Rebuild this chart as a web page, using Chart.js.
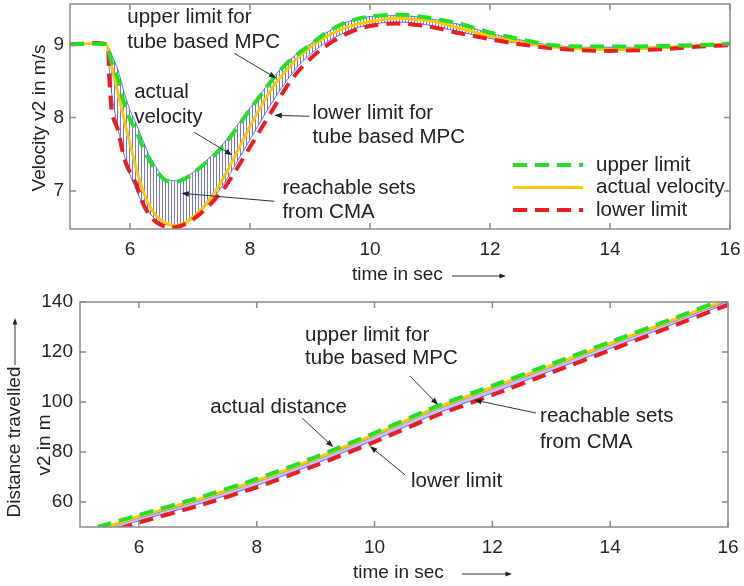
<!DOCTYPE html>
<html>
<head>
<meta charset="utf-8">
<script src="https://cdn.jsdelivr.net/npm/chart.js@4.4.1/dist/chart.umd.min.js"></script>
<style>
  html, body { margin: 0; padding: 0; background: #fff; }
  #wrap { position: relative; width: 744px; height: 586px; }
  canvas { position: absolute; left: 0; }
  #velo { top: 0; }
  #dist { top: 290px; }
</style>
</head>
<body>
<div id="wrap">
  <canvas id="velo" width="744" height="290"></canvas>
  <canvas id="dist" width="744" height="296"></canvas>
</div>
<script>
// ---- velocity plot (top) ----
const velTime = [5.0, 5.6, 5.65, 5.7, 5.8, 5.9, 6.0, 6.1, 6.2, 6.3, 6.4, 6.5, 6.6, 6.7, 6.8, 6.9, 7.0, 7.2, 7.4, 7.6, 7.8, 8.0,
  8.2, 8.4, 8.6, 8.8, 9.0, 9.2, 9.4, 9.6, 9.8, 10.0, 10.3, 10.6, 11.0, 11.5, 12.0, 12.5, 13.0, 13.5, 14.0, 14.5, 15.0, 15.5, 16.0];
const velActual = [9.0, 9.0, 8.85, 8.68, 8.33, 7.98, 7.64, 7.32, 7.04, 6.84, 6.70, 6.61, 6.56, 6.53, 6.53, 6.56, 6.61, 6.76, 6.97, 7.24, 7.56, 7.88,
  8.18, 8.44, 8.64, 8.82, 8.96, 9.07, 9.16, 9.23, 9.28, 9.31, 9.35, 9.35, 9.32, 9.22, 9.11, 9.03, 8.97, 8.94, 8.93, 8.94, 8.96, 8.98, 9.0];
const velUpper = [9.0, 9.0, 8.88, 8.74, 8.52, 8.20, 7.97, 7.83, 7.62, 7.45, 7.32, 7.21, 7.14, 7.13, 7.13, 7.16, 7.21, 7.34, 7.48, 7.66, 7.88, 8.11,
  8.33, 8.55, 8.73, 8.87, 8.99, 9.12, 9.22, 9.30, 9.35, 9.38, 9.40, 9.40, 9.36, 9.28, 9.16, 9.07, 8.99, 8.97, 8.97, 8.97, 8.98, 8.99, 9.01];
const velLower = [9.0, 9.0, 8.60, 8.05, 7.83, 7.45, 7.25, 7.10, 6.86, 6.70, 6.60, 6.54, 6.51, 6.50, 6.51, 6.54, 6.58, 6.71, 6.87, 7.07, 7.33, 7.60,
  7.87, 8.14, 8.41, 8.63, 8.80, 8.94, 9.05, 9.14, 9.21, 9.25, 9.28, 9.28, 9.24, 9.15, 9.07, 9.00, 8.95, 8.92, 8.91, 8.92, 8.94, 8.97, 8.99];
const velReachHi = [9.0, 9.0, 8.95, 8.85, 8.65, 8.35, 8.10, 7.92, 7.72, 7.52, 7.37, 7.24, 7.16, 7.14, 7.14, 7.17, 7.22, 7.36, 7.51, 7.69, 7.91, 8.13,
  8.35, 8.56, 8.74, 8.88, 9.0, 9.12, 9.22, 9.30, 9.35, 9.38, 9.39, 9.39, 9.35, 9.27, 9.15, 9.06, 8.99, 8.96, 8.96, 8.96, 8.97, 8.99, 9.0];
const velReachLo = [9.0, 9.0, 8.70, 8.30, 7.85, 7.50, 7.22, 7.02, 6.84, 6.72, 6.63, 6.57, 6.54, 6.53, 6.53, 6.55, 6.60, 6.74, 6.92, 7.14, 7.42, 7.70,
  7.98, 8.25, 8.49, 8.70, 8.86, 8.99, 9.09, 9.17, 9.23, 9.27, 9.30, 9.30, 9.26, 9.17, 9.08, 9.01, 8.96, 8.93, 8.92, 8.93, 8.95, 8.97, 8.99];
const velXTicks = [6, 8, 10, 12, 14, 16];
const velYTicks = [7, 8, 9];

// ---- distance plot (bottom) ----
const distTime = [5.3, 6, 7, 8, 9, 10, 11, 12, 13, 14, 15, 16];
const distUpper = [50.0, 54.8, 61.6, 69.2, 78.0, 87.6, 97.8, 106.5, 115.2, 124.0, 132.8, 141.7];
const distActual = [48.8, 54.2, 61.0, 68.6, 77.4, 87.0, 97.2, 105.9, 114.6, 123.4, 132.2, 141.1];
const distLower = [46.6, 51.8, 58.4, 65.9, 74.6, 84.0, 94.1, 102.8, 111.7, 120.7, 129.8, 138.9];
const distReachHi = [48.4, 53.6, 60.4, 68.0, 76.8, 86.4, 96.6, 105.3, 114.0, 122.8, 131.6, 140.4];
const distReachLo = [47.2, 52.5, 59.1, 66.6, 75.4, 84.8, 94.9, 103.6, 112.5, 121.4, 130.5, 139.5];
const distXTicks = [6, 8, 10, 12, 14, 16];
const distYTicks = [60, 80, 100, 120, 140];

const FAMILY = '"Liberation Sans", Arial, sans-serif';
const FONT = '19px ' + FAMILY;
const NOTE_FONT = '20.5px ' + FAMILY;
const GREEN = '#22e022', RED = '#ee1c1c', YELLOW = '#ffc800', BLUE = 'rgba(70,70,255,0.8)';

function pts(xs, ys) {
  return xs.map((x, i) => ({ x: x, y: ys[i] }));
}

// vertical hatch used for the reachable sets
const pc = document.createElement('canvas');
pc.width = 3; pc.height = 4;
const pctx = pc.getContext('2d');
pctx.fillStyle = 'rgba(60,60,240,0.7)';
pctx.fillRect(0, 0, 1, 4);
const hatch = pctx.createPattern(pc, 'repeat');

function arrow(ctx, x0, y0, x1, y1, head) {
  const ang = Math.atan2(y1 - y0, x1 - x0);
  ctx.beginPath();
  ctx.moveTo(x0, y0);
  ctx.lineTo(x1 - Math.cos(ang) * head * 0.8, y1 - Math.sin(ang) * head * 0.8);
  ctx.stroke();
  ctx.beginPath();
  ctx.moveTo(x1, y1);
  ctx.lineTo(x1 - head * Math.cos(ang - 0.35), y1 - head * Math.sin(ang - 0.35));
  ctx.lineTo(x1 - head * Math.cos(ang + 0.35), y1 - head * Math.sin(ang + 0.35));
  ctx.closePath();
  ctx.fill();
}

const decor = {
  id: 'decor',
  afterDraw(chart, args, o) {
    const ctx = chart.ctx, a = chart.chartArea;
    const xs = chart.scales.x, ys = chart.scales.y;
    ctx.save();
    // axes box + inward ticks (matlab style)
    ctx.strokeStyle = '#8c8c8c';
    ctx.lineWidth = 1.5;
    ctx.strokeRect(a.left, a.top, a.right - a.left, a.bottom - a.top);
    ctx.beginPath();
    xs.ticks.forEach(t => {
      const px = xs.getPixelForValue(t.value);
      ctx.moveTo(px, a.bottom); ctx.lineTo(px, a.bottom - 6);
      ctx.moveTo(px, a.top); ctx.lineTo(px, a.top + 6);
    });
    ys.ticks.forEach(t => {
      const py = ys.getPixelForValue(t.value);
      ctx.moveTo(a.left, py); ctx.lineTo(a.left + 6, py);
      ctx.moveTo(a.right, py); ctx.lineTo(a.right - 6, py);
    });
    ctx.stroke();

    // text notes and arrows
    ctx.font = NOTE_FONT;
    ctx.fillStyle = '#222';
    ctx.strokeStyle = '#333';
    ctx.lineWidth = 1;
    ctx.textAlign = 'left';
    ctx.textBaseline = 'middle';
    o.notes.forEach(n => ctx.fillText(n[0], xs.getPixelForValue(n[1]), ys.getPixelForValue(n[2])));
    o.arrows.forEach(r => arrow(ctx, xs.getPixelForValue(r[0]), ys.getPixelForValue(r[1]),
      xs.getPixelForValue(r[2]), ys.getPixelForValue(r[3]), 8));

    // legend
    if (o.legend) {
      o.legend.forEach((it, i) => {
        const ds = chart.data.datasets[it.index];
        const y = a.bottom - 64 + i * 22.5;
        ctx.save();
        ctx.strokeStyle = ds.borderColor;
        ctx.lineWidth = ds.borderWidth;
        ctx.setLineDash(ds.borderDash || []);
        ctx.beginPath();
        ctx.moveTo(a.right - 217, y);
        ctx.lineTo(a.right - 147, y);
        ctx.stroke();
        ctx.restore();
        ctx.fillText(it.text, a.right - 134, y);
      });
    }

    // axis titles
    ctx.font = FONT;
    ctx.fillStyle = '#222';
    o.xTitle.forEach(t => ctx.fillText(t.text, t.x, t.y));
    o.xArrow && arrow(ctx, o.xArrow[0], o.xArrow[2], o.xArrow[1], o.xArrow[2], 7);
    o.yTitle.forEach(t => {
      ctx.save();
      ctx.translate(t.x, t.y);
      ctx.rotate(-Math.PI / 2);
      ctx.textAlign = 'center';
      ctx.fillText(t.text, 0, 0);
      ctx.restore();
    });
    o.yArrow && arrow(ctx, o.yArrow[0], o.yArrow[1], o.yArrow[0], o.yArrow[2], 7);
    ctx.restore();
  }
};

function makeChart(id, cfg) {
  return new Chart(document.getElementById(id), {
    type: 'line',
    data: { datasets: cfg.datasets },
    options: {
      responsive: false,
      animation: false,
      layout: { padding: cfg.pad },
      elements: { point: { radius: 0 }, line: { tension: 0.2 } },
      plugins: {
        legend: { display: false },
        tooltip: { enabled: false },
        decor: cfg.decor
      },
      scales: {
        x: {
          type: 'linear', min: 5, max: 16,
          grid: { display: false, drawTicks: false },
          border: { display: false },
          ticks: { padding: 9, color: '#262626', font: { size: 19, family: FAMILY } },
          afterBuildTicks: s => { s.ticks = cfg.xTicks.map(v => ({ value: v })); },
          afterFit: s => { s.height = cfg.xh; s.paddingLeft = 0; s.paddingRight = 0; }
        },
        y: {
          type: 'linear', min: cfg.ymin, max: cfg.ymax,
          grid: { display: false, drawTicks: false },
          border: { display: false },
          ticks: { padding: cfg.ypad, color: '#262626', font: { size: 19, family: FAMILY } },
          afterBuildTicks: s => { s.ticks = cfg.yTicks.map(v => ({ value: v })); },
          afterFit: s => { s.width = cfg.yw; s.paddingTop = 0; s.paddingBottom = 0; }
        }
      }
    },
    plugins: [decor]
  });
}

makeChart('velo', {
  pad: { left: 0, right: 14, top: 4, bottom: 0 },
  xh: 61, yw: 70, ypad: 6,
  ymin: 6.48, ymax: 9.55,
  xTicks: velXTicks, yTicks: velYTicks,
  datasets: [
    { label: 'upper limit', data: pts(velTime, velUpper), borderColor: GREEN, borderWidth: 4, borderDash: [14, 8], fill: false, clip: 0 },
    { label: 'lower limit', data: pts(velTime, velLower), borderColor: RED, borderWidth: 4, borderDash: [14, 8], fill: false, clip: 0 },
    { label: 'actual velocity', data: pts(velTime, velActual), borderColor: YELLOW, borderWidth: 3, fill: false, clip: 0 },
    { label: 'reach hi', data: pts(velTime, velReachHi), borderColor: BLUE, borderWidth: 1, backgroundColor: hatch, fill: '+1', clip: 0 },
    { label: 'reach lo', data: pts(velTime, velReachLo), borderColor: BLUE, borderWidth: 1, fill: false, clip: 0 }
  ],
  decor: {
    notes: [
      ['upper limit for', 5.955, 9.368], ['tube based MPC', 5.955, 9.027],
      ['actual', 6.07, 8.345], ['velocity', 6.07, 8.004],
      ['lower limit for', 9.04, 8.059], ['tube based MPC', 9.04, 7.731],
      ['reachable sets', 8.54, 7.035], ['from CMA', 8.54, 6.708]
    ],
    arrows: [
      [7.74, 8.877, 8.44, 8.536],
      [7.07, 7.80, 7.705, 7.486],
      [8.99, 8.018, 8.405, 8.031],
      [8.405, 6.858, 6.855, 6.967]
    ],
    legend: [
      { index: 0, text: 'upper limit' },
      { index: 2, text: 'actual velocity' },
      { index: 1, text: 'lower limit' }
    ],
    xTitle: [{ text: 'time in sec', x: 352, y: 275 }],
    xArrow: [452, 506, 276],
    yTitle: [{ text: 'Velocity v2 in m/s', x: 40, y: 118 }],
    yArrow: null
  }
});

makeChart('dist', {
  pad: { left: 0, right: 16, top: 12, bottom: 0 },
  xh: 59, yw: 80, ypad: 7,
  ymin: 50, ymax: 140,
  xTicks: distXTicks, yTicks: distYTicks,
  datasets: [
    { label: 'upper limit', data: pts(distTime, distUpper), borderColor: GREEN, borderWidth: 4, borderDash: [14, 8], fill: false, clip: 0 },
    { label: 'lower limit', data: pts(distTime, distLower), borderColor: RED, borderWidth: 4, borderDash: [14, 8], fill: false, clip: 0 },
    { label: 'actual distance', data: pts(distTime, distActual), borderColor: YELLOW, borderWidth: 3, fill: false, clip: 0 },
    { label: 'reach hi', data: pts(distTime, distReachHi), borderColor: BLUE, borderWidth: 1, backgroundColor: 'rgba(120,120,255,0.45)', fill: '+1', clip: 0 },
    { label: 'reach lo', data: pts(distTime, distReachLo), borderColor: BLUE, borderWidth: 1, fill: false, clip: 0 }
  ],
  decor: {
    notes: [
      ['upper limit for', 8.82, 126.8], ['tube based MPC', 8.82, 117.6],
      ['actual distance', 7.21, 98.0],
      ['reachable sets', 12.81, 94.4], ['from CMA', 12.81, 84.0],
      ['lower limit', 10.62, 68.4]
    ],
    arrows: [
      [10.60, 110.4, 11.08, 98.8],
      [8.77, 93.6, 9.30, 82.0],
      [12.74, 95.6, 11.69, 100.8],
      [10.52, 70.8, 9.92, 82.4]
    ],
    legend: null,
    xTitle: [{ text: 'time in sec', x: 353, y: 283 }],
    xArrow: [462, 512, 284],
    yTitle: [{ text: 'Distance travelled', x: 15, y: 152 }, { text: 'v2 in m', x: 45, y: 155 }],
    yArrow: [15, 75, 28]
  }
});
</script>
</body>
</html>
